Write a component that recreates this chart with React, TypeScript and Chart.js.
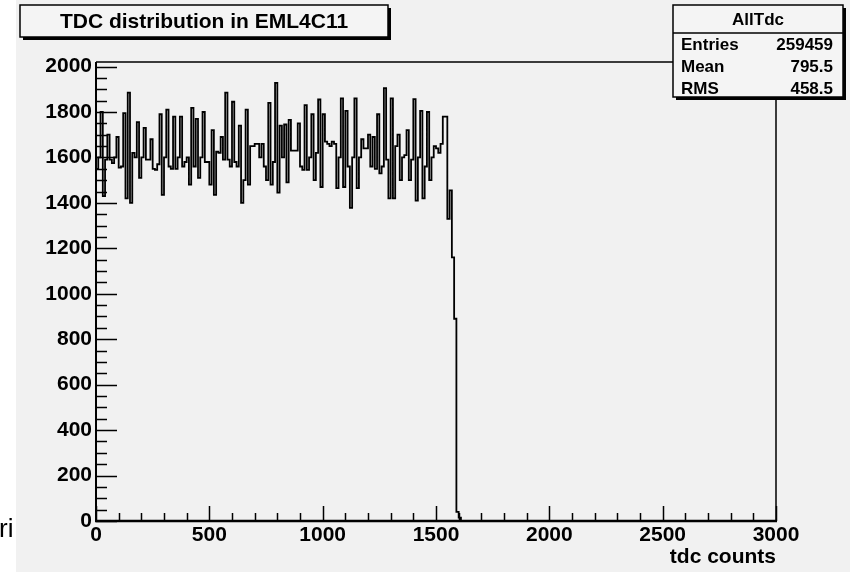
import React, { useEffect, useRef } from "react";
import { Chart, registerables } from "chart.js";

Chart.register(...registerables);

// ---- data ----
const binWidth = 10;
const counts = [
  1690, 1550, 1600, 1800, 1430, 1590, 1700, 1590, 1575, 1600,
  1690, 1555, 1560, 1795, 1420, 1885, 1400, 1620, 1600, 1755,
  1510, 1600, 1730, 1590, 1590, 1680, 1550, 1545, 1570, 1790,
  1435, 1600, 1810, 1560, 1550, 1780, 1550, 1600, 1780, 1560,
  1580, 1600, 1480, 1818, 1560, 1770, 1510, 1600, 1800, 1580,
  1580, 1480, 1720, 1435, 1625, 1620, 1690, 1590, 1885, 1590,
  1560, 1845, 1580, 1560, 1740, 1400, 1500, 1810, 1480, 1650,
  1650, 1660, 1660, 1600, 1660, 1560, 1500, 1840, 1480, 1580,
  1928, 1445, 1740, 1600, 1745, 1490, 1765, 1630, 1630, 1630,
  1750, 1560, 1545, 1830, 1545, 1600, 1790, 1500, 1620, 1855,
  1470, 1790, 1670, 1660, 1650, 1670, 1660, 1465, 1600, 1860,
  1470, 1805, 1560, 1378, 1600, 1860, 1465, 1600, 1680, 1640,
  1640, 1700, 1560, 1690, 1550, 1790, 1530, 1560, 1905, 1590,
  1420, 1860, 1420, 1650, 1700, 1500, 1600, 1610, 1720, 1500,
  1590, 1857, 1410, 1600, 1805, 1420, 1560, 1800, 1500, 1600,
  1650, 1640, 1620, 1660, 1780, 1780, 1330, 1455, 1160, 890,
  40, 15,
];
const xMin = 0;
const xMax = 3000;
const yMin = 0;
const yMax = 2020;
const xTickLabels = [0, 500, 1000, 1500, 2000, 2500, 3000];
const yTickLabels = [0, 200, 400, 600, 800, 1000, 1200, 1400, 1600, 1800, 2000];
const xMinorStep = 100;
const yMinorStep = 50;
const titleText = "TDC distribution in EML4C11";
const xAxisTitle = "tdc counts";
const statsName = "AllTdc";
const statsLabels = ["Entries", "Mean", "RMS"];
const statsValues = ["259459", "795.5", "458.5"];
const sideText = "ri";

const FONT = "'Liberation Sans', Arial, Helvetica, sans-serif";
const BG = "#f1f1f1";

const rootDecor = {
  id: "rootDecor",
  beforeDraw(chart: any) {
    const { ctx, width, height } = chart;
    ctx.save();
    ctx.fillStyle = BG;
    ctx.fillRect(0, 0, width, height);
    ctx.fillStyle = "#ffffff";
    ctx.fillRect(0, 0, 16, height);
    ctx.restore();
  },
  afterDatasetsDraw(chart: any) {
    const { ctx, chartArea } = chart;
    const xs = chart.scales.x;
    const ys = chart.scales.y;
    const { left, right, top, bottom } = chartArea;
    ctx.save();
    ctx.strokeStyle = "#000";
    ctx.lineWidth = 1.5;
    ctx.beginPath();
    ctx.moveTo(left, top);
    ctx.lineTo(right, top);
    ctx.lineTo(right, bottom);
    ctx.stroke();
    ctx.lineWidth = 2.5;
    ctx.beginPath();
    ctx.moveTo(left - 1, bottom);
    ctx.lineTo(right + 1, bottom);
    ctx.stroke();
    ctx.lineWidth = 2;
    ctx.beginPath();
    ctx.moveTo(left, bottom);
    ctx.lineTo(left, top);
    ctx.stroke();
    ctx.lineWidth = 1.5;
    ctx.beginPath();
    for (let v = yMin; v <= yMax + 1e-6; v += yMinorStep) {
      const py = Math.round(ys.getPixelForValue(v)) + 0.5;
      const major = yTickLabels.includes(v);
      ctx.moveTo(left, py);
      ctx.lineTo(left + (major ? 21 : 11), py);
    }
    ctx.stroke();
    ctx.beginPath();
    for (let v = xMin; v <= xMax + 1e-6; v += xMinorStep) {
      const px = Math.round(xs.getPixelForValue(v)) + 0.5;
      const major = xTickLabels.includes(v);
      ctx.moveTo(px, bottom);
      ctx.lineTo(px, bottom - (major ? 15 : 8));
    }
    ctx.stroke();
    ctx.restore();
  },
  afterDraw(chart: any) {
    const { ctx } = chart;
    ctx.save();
    const tb = { x: 20, y: 5, w: 368, h: 32 };
    ctx.fillStyle = "#000";
    ctx.fillRect(tb.x + 3, tb.y + 3, tb.w, tb.h);
    ctx.fillStyle = "#f4f4f4";
    ctx.fillRect(tb.x, tb.y, tb.w, tb.h);
    ctx.strokeStyle = "#000";
    ctx.lineWidth = 1.5;
    ctx.strokeRect(tb.x, tb.y, tb.w, tb.h);
    ctx.fillStyle = "#000";
    ctx.font = `bold 21px ${FONT}`;
    ctx.textAlign = "center";
    ctx.textBaseline = "middle";
    ctx.fillText(titleText, tb.x + tb.w / 2, tb.y + tb.h / 2 + 1);

    const sb = { x: 673, y: 5, w: 170, h: 92 };
    ctx.fillStyle = "#000";
    ctx.fillRect(sb.x + 3, sb.y + 3, sb.w, sb.h);
    ctx.fillStyle = "#f4f4f4";
    ctx.fillRect(sb.x, sb.y, sb.w, sb.h);
    ctx.strokeRect(sb.x, sb.y, sb.w, sb.h);
    ctx.beginPath();
    ctx.moveTo(sb.x, 33);
    ctx.lineTo(sb.x + sb.w, 33);
    ctx.stroke();
    ctx.fillStyle = "#000";
    ctx.font = `bold 17px ${FONT}`;
    ctx.textAlign = "center";
    ctx.fillText(statsName, sb.x + sb.w / 2, 20);
    statsLabels.forEach((lab, i) => {
      const yy = 45 + i * 22;
      ctx.textAlign = "left";
      ctx.fillText(lab, sb.x + 8, yy);
      ctx.textAlign = "right";
      ctx.fillText(statsValues[i], sb.x + sb.w - 10, yy);
    });

    ctx.font = `26px ${FONT}`;
    ctx.textAlign = "left";
    ctx.textBaseline = "alphabetic";
    ctx.fillText(sideText, -1, 537);
    ctx.restore();
  },
};

export default function App() {
  const ref = useRef<HTMLCanvasElement | null>(null);

  useEffect(() => {
    if (!ref.current) return;
    const points = counts.map((c, i) => ({ x: xMin + i * binWidth, y: c }));
    points.push({ x: xMin + counts.length * binWidth, y: 0 });
    points.push({ x: xMax, y: 0 });

    const tickFont = { family: FONT, size: 21, weight: "bold" as const };

    const chart = new Chart(ref.current, {
      type: "line",
      data: {
        datasets: [
          {
            data: points,
            stepped: "after",
            borderColor: "#000",
            borderWidth: 1.8,
            pointRadius: 0,
            fill: false,
            tension: 0,
          },
        ],
      },
      options: {
        animation: false,
        responsive: false,
        layout: { padding: { left: 0, right: 74, top: 62, bottom: 0 } },
        plugins: {
          legend: { display: false },
          tooltip: { enabled: false },
          title: { display: false },
        },
        scales: {
          x: {
            type: "linear",
            min: xMin,
            max: xMax,
            grid: { display: false },
            border: { display: false },
            afterBuildTicks: (s: any) => {
              s.ticks = xTickLabels.map((v) => ({ value: v }));
            },
            ticks: {
              maxRotation: 0,
              autoSkip: false,
              color: "#000",
              font: tickFont,
              padding: -6,
              callback: (v: any) => String(v),
            },
            title: {
              display: true,
              text: xAxisTitle,
              align: "end",
              color: "#000",
              font: tickFont,
              padding: { top: 0, bottom: 2 },
            },
            afterFit: (s: any) => {
              s.height = 51;
            },
          },
          y: {
            type: "linear",
            min: yMin,
            max: yMax,
            grid: { display: false },
            border: { display: false },
            afterBuildTicks: (s: any) => {
              s.ticks = yTickLabels.map((v) => ({ value: v }));
            },
            ticks: {
              autoSkip: false,
              color: "#000",
              font: tickFont,
              padding: -4,
              callback: (v: any) => String(v),
            },
            afterFit: (s: any) => {
              s.width = 96;
            },
          },
        },
      },
      plugins: [rootDecor],
    });
    return () => chart.destroy();
  }, []);

  return (
    <div style={{ position: "absolute", left: 0, top: 0, width: 850, height: 572 }}>
      <canvas ref={ref} width={850} height={572} style={{ display: "block" }} />
    </div>
  );
}
